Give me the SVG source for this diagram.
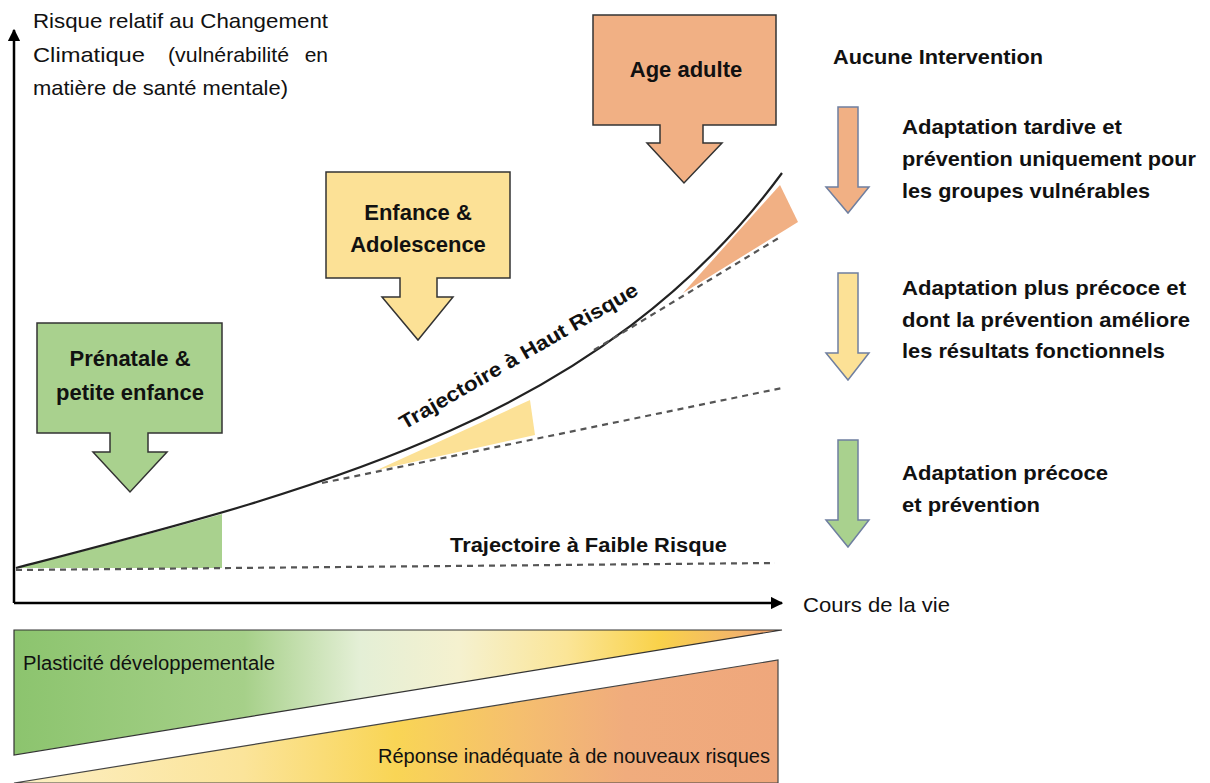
<svg xmlns="http://www.w3.org/2000/svg" width="1210" height="783" viewBox="0 0 1210 783">
<style>
.t{font-family:"Liberation Sans",Arial,sans-serif;fill:#111}
.b{font-weight:bold}
.box{stroke:#333;stroke-width:1.5}
.ra{stroke:#6F7FA0;stroke-width:1.5}
.dash{fill:none;stroke:#555;stroke-width:2.2;stroke-dasharray:6,5}
.axis{stroke:#000;stroke-width:2.5;fill:none}
.or{fill:#F1B084}.ye{fill:#FCE196}.gr{fill:#A9D18E}
</style>
<defs>
<marker id="ah" viewBox="0 0 10 10" refX="9" refY="5" markerWidth="5" markerHeight="5" orient="auto"><path d="M0,0 L10,5 L0,10 z" fill="#000"/></marker>
<linearGradient id="g1" gradientUnits="userSpaceOnUse" x1="14" y1="0" x2="782" y2="0">
<stop offset="0" stop-color="#8CC46E"/><stop offset="0.3" stop-color="#A6D089"/><stop offset="0.45" stop-color="#E4EFD6"/><stop offset="0.58" stop-color="#F5F1CF"/><stop offset="0.72" stop-color="#FBE597"/><stop offset="0.84" stop-color="#F9D24A"/><stop offset="0.95" stop-color="#F2B36C"/><stop offset="1" stop-color="#EFA070"/>
</linearGradient>
<linearGradient id="g2" gradientUnits="userSpaceOnUse" x1="14" y1="0" x2="778" y2="0">
<stop offset="0" stop-color="#FCEFC4"/><stop offset="0.3" stop-color="#FBE49A"/><stop offset="0.5" stop-color="#F9D555"/><stop offset="0.66" stop-color="#F5BF6E"/><stop offset="0.8" stop-color="#F0AC7D"/><stop offset="1" stop-color="#EFA77C"/>
</linearGradient>
</defs>
<rect width="1210" height="783" fill="#fff"/>

<g id="axes">
<line class="axis" x1="14" y1="603" x2="14" y2="30" marker-end="url(#ah)"/>
<line class="axis" x1="14" y1="603" x2="782" y2="603" marker-end="url(#ah)"/>
<text class="t" font-size="21" x="33" y="28" textLength="295" lengthAdjust="spacingAndGlyphs">Risque relatif au Changement</text>
<text class="t" font-size="21" x="33" y="62" textLength="112" lengthAdjust="spacingAndGlyphs">Climatique</text>
<text class="t" font-size="21" x="168" y="62" textLength="121" lengthAdjust="spacingAndGlyphs">(vulnérabilité</text>
<text class="t" font-size="21" x="328" y="62" text-anchor="end">en</text>
<text class="t" font-size="21" x="33" y="95" textLength="255" lengthAdjust="spacingAndGlyphs">matière de santé mentale)</text>
<text class="t" font-size="21" x="803" y="612" textLength="147" lengthAdjust="spacingAndGlyphs">Cours de la vie</text>
</g>

<g id="fills">
<path class="gr" d="M16,568 C80,552 150,534 222,514 L222,568 Z"/>
<path class="ye" d="M377,470 L530,400 L535,435 Z"/>
<path class="or" d="M683,293 L780,185 L798,222 Z"/>
</g>

<g id="connectors">
<path d="M16,568 C316,490 600,420 782,173" fill="none" stroke="#222" stroke-width="2.2"/>
<line class="dash" x1="16" y1="570" x2="775" y2="563"/>
<line class="dash" x1="322" y1="483" x2="782" y2="388"/>
<line class="dash" x1="594" y1="350" x2="782" y2="236"/>
</g>

<g id="labels">
<text class="t b" font-size="20" transform="translate(522,362) rotate(-30)" text-anchor="middle" textLength="272" lengthAdjust="spacingAndGlyphs">Trajectoire à Haut Risque</text>
<text class="t b" font-size="20" x="450" y="552" textLength="277" lengthAdjust="spacingAndGlyphs">Trajectoire à Faible Risque</text>
</g>

<g id="node-prenatale">
<path class="box gr" d="M37,323 H222 V433 H148 V452 H167 L130,492 L93,452 H110 V433 H37 Z"/>
<text class="t b" font-size="22" x="130" y="366" text-anchor="middle">Prénatale &amp;</text>
<text class="t b" font-size="22" x="130" y="400" text-anchor="middle">petite enfance</text>
</g>

<g id="node-enfance">
<path class="box ye" d="M326,172 H510 V278 H437 V297 H453 L418,340 L382,297 H400 V278 H326 Z"/>
<text class="t b" font-size="22" x="418" y="220" text-anchor="middle">Enfance &amp;</text>
<text class="t b" font-size="22" x="418" y="252" text-anchor="middle">Adolescence</text>
</g>

<g id="node-adulte">
<path class="box or" d="M593,15 H776 V125 H703 V143 H722 L684,183 L647,143 H660 V125 H593 Z"/>
<text class="t b" font-size="22" x="686" y="77" text-anchor="middle">Age adulte</text>
</g>

<g id="legend">
<text class="t b" font-size="21" x="833" y="64" textLength="210" lengthAdjust="spacingAndGlyphs">Aucune Intervention</text>
<path class="ra or" d="M838,107 H858 V187 H869 L848,213 L826,187 H838 Z"/>
<text class="t b" font-size="21" x="902" y="134" textLength="220" lengthAdjust="spacingAndGlyphs">Adaptation tardive et</text>
<text class="t b" font-size="21" x="902" y="166" textLength="294" lengthAdjust="spacingAndGlyphs">prévention uniquement pour</text>
<text class="t b" font-size="21" x="902" y="198" textLength="248" lengthAdjust="spacingAndGlyphs">les groupes vulnérables</text>
<path class="ra ye" d="M838,273 H858 V353 H869 L848,380 L826,353 H838 Z"/>
<text class="t b" font-size="21" x="902" y="295" textLength="284" lengthAdjust="spacingAndGlyphs">Adaptation plus précoce et</text>
<text class="t b" font-size="21" x="902" y="327" textLength="288" lengthAdjust="spacingAndGlyphs">dont la prévention améliore</text>
<text class="t b" font-size="21" x="902" y="358" textLength="263" lengthAdjust="spacingAndGlyphs">les résultats fonctionnels</text>
<path class="ra gr" d="M838,440 H858 V520 H869 L848,547 L826,520 H838 Z"/>
<text class="t b" font-size="21" x="902" y="480" textLength="206" lengthAdjust="spacingAndGlyphs">Adaptation précoce</text>
<text class="t b" font-size="21" x="902" y="512" textLength="138" lengthAdjust="spacingAndGlyphs">et prévention</text>
</g>

<g id="bands">
<path d="M14,630 H782 L14,755 Z" fill="url(#g1)" stroke="#333" stroke-width="1.2"/>
<path d="M14,783 L778,660 V783 Z" fill="url(#g2)" stroke="#444" stroke-width="1.2"/>
<text class="t" font-size="20" x="23" y="670" textLength="252" lengthAdjust="spacingAndGlyphs">Plasticité développementale</text>
<text class="t" font-size="20" x="770" y="763" text-anchor="end" textLength="392" lengthAdjust="spacingAndGlyphs">Réponse inadéquate à de nouveaux risques</text>
</g>
</svg>
